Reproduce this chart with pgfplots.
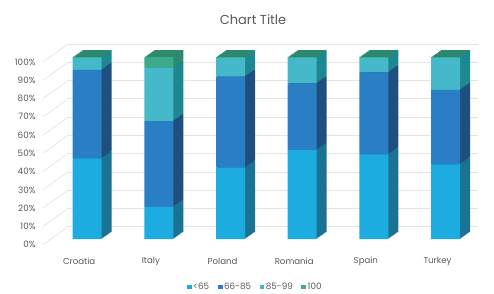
\documentclass[border=0pt]{standalone}
\usepackage{fontspec}
\setmainfont{Poppins}
\usepackage{pgfplots}
\pgfplotsset{compat=1.18}
\usepackage{pgfplotstable}

\definecolor{cA}{HTML}{1DACE0}
\definecolor{cAs}{HTML}{1A7393}
\definecolor{cB}{HTML}{2A7FC4}
\definecolor{cBs}{HTML}{1E4F7E}
\definecolor{cC}{HTML}{45B8C9}
\definecolor{cCs}{HTML}{1F878F}
\definecolor{cD}{HTML}{3CAA8B}
\definecolor{cDs}{HTML}{2E8A6C}
\definecolor{txt}{HTML}{595959}
\definecolor{gridc}{HTML}{E4E4E4}

\pgfplotstableread{
x a b c d
0 44.3 48.6 6.6 0.5
1 17.7 47.1 29.3 5.9
2 39.2 50.0 10.3 0.5
3 48.9 36.6 14.0 0.5
4 46.5 45.1 7.9 0.5
5 41.0 40.9 17.6 0.5
}\data

\pgfplotsset{barbase/.style={scale only axis, anchor=south west, width=430pt, height=182pt,
  xmin=-0.5, xmax=5.5, ymin=0, ymax=100, ybar stacked, bar width=29pt, clip=false}}

\begin{document}
\begin{tikzpicture}
\useasboundingbox (0,0) rectangle (494pt,293pt);
% back wall with gridlines
\begin{axis}[scale only axis, anchor=south west, at={(68pt,66.3pt)}, width=410pt, height=182.7pt,
  xmin=0, xmax=1, ymin=0, ymax=100, ytick={0,10,...,100}, xtick=\empty,
  ymajorgrids, grid style={draw=gridc, line width=0.7pt},
  axis line style={draw=none}, major tick style={draw=none},
  /pgf/number format/assume math mode=true,
  yticklabel={\pgfmathprintnumber{\tick}\%},
  yticklabel style={xshift=-29pt, yshift=-18pt, text=txt, font=\fontsize{8.8}{10}\selectfont},
  clip=false]
\pgfplotsinvokeforeach{0,10,...,100}{\draw[draw=gridc, line width=0.7pt] ([shift={(-25pt,-18pt)}]axis cs:0,#1) -- (axis cs:0,#1);}
\end{axis}
% depth copies (side and top faces)
\foreach \k in {10,9,...,1}{
\begin{axis}[barbase, hide axis, at={(51.35pt+\k*1pt, 54pt+\k*0.7pt)}]
\addplot[fill=cAs, draw=none] table[x=x, y=a] {\data};
\addplot[fill=cBs, draw=none] table[x=x, y=b] {\data};
\addplot[fill=cCs, draw=none] table[x=x, y=c] {\data};
\addplot[fill=cDs, draw=none] table[x=x, y=d] {\data};
\end{axis}
}
% front faces
\begin{axis}[barbase, at={(51.35pt,54pt)},
  axis line style={draw=none}, major tick style={draw=none},
  ytick=\empty, xtick={0,1,2,3,4,5},
  xticklabels={Croatia,Italy,Poland,Romania,Spain,Turkey},
  xticklabel style={anchor=center, yshift=-22pt, xshift=-8pt, text=txt, font=\fontsize{8.6}{10}\selectfont},
  legend image code/.code={\fill[#1] (0pt,-2.4pt) rectangle (4.8pt,2.4pt);},
  legend style={draw=none, fill=none, legend columns=4, at={(0.4736,-0.264)}, anchor=center,
    font=\fontsize{8.8}{10}\selectfont, text=txt,
    /tikz/every even column/.append style={column sep=7pt},
    /tikz/every odd column/.append style={column sep=0pt},
    nodes={inner xsep=1.5pt}},
  ]
\addplot[fill=cA, draw=none] table[x=x, y=a] {\data};
\addplot[fill=cB, draw=none] table[x=x, y=b] {\data};
\addplot[fill=cC, draw=none] table[x=x, y=c] {\data};
\addplot[fill=cD, draw=none] table[x=x, y=d] {\data};
\legend{<65,66-85,85-99,100}
\end{axis}
\node[text=txt, font=\fontsize{13}{15}\selectfont] at (253pt,273pt) {Chart Title};
\end{tikzpicture}
\end{document}
